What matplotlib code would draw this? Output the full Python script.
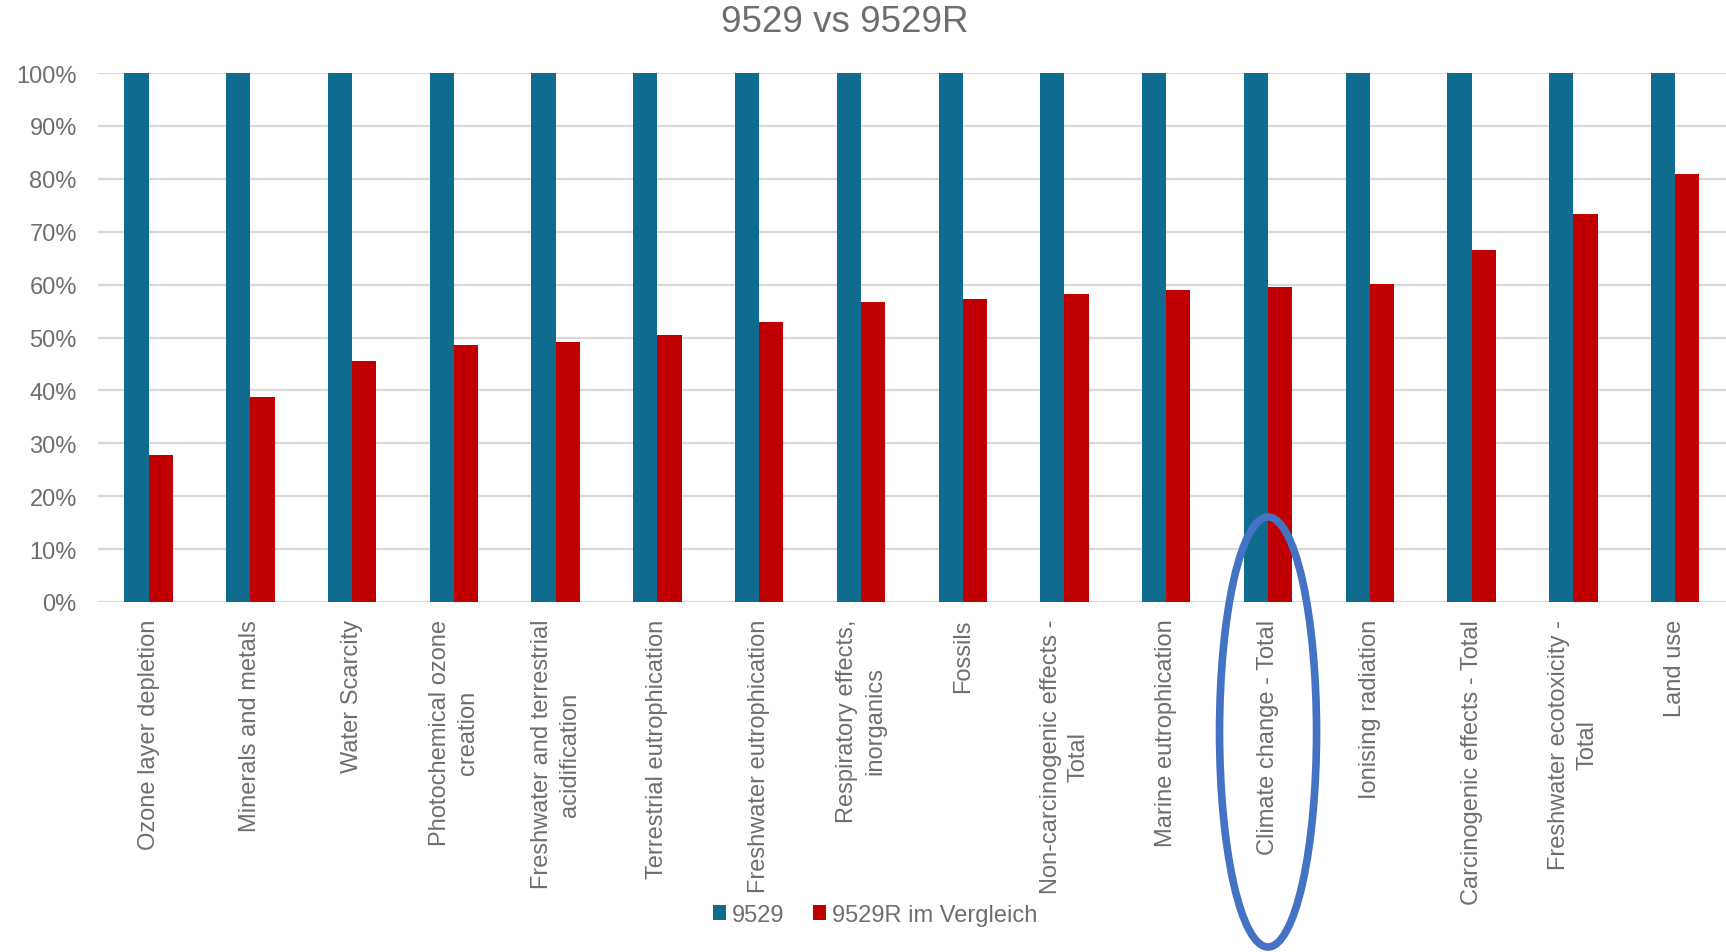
import matplotlib
matplotlib.use("Agg")
import matplotlib.pyplot as plt
import numpy as np
from matplotlib.patches import Ellipse
from matplotlib.ticker import PercentFormatter

plt.rcParams['font.family'] = ['Liberation Sans', 'DejaVu Sans']

# Data
categories = [
    "Ozone layer depletion",
    "Minerals and metals",
    "Water Scarcity",
    "Photochemical ozone\ncreation",
    "Freshwater and terrestrial\nacidification",
    "Terrestrial eutrophication",
    "Freshwater eutrophication",
    "Respiratory effects,\ninorganics",
    "Fossils",
    "Non-carcinogenic effects -\nTotal",
    "Marine eutrophication",
    "Climate change - Total",
    "Ionising radiation",
    "Carcinogenic effects - Total",
    "Freshwater ecotoxicity -\nTotal",
    "Land use",
]
base_9529 = [1.0] * 16
comp_9529r = [0.277, 0.388, 0.456, 0.485, 0.492, 0.504, 0.529, 0.568,
              0.572, 0.582, 0.589, 0.596, 0.602, 0.666, 0.734, 0.809]
series_names = ["9529", "9529R im Vergleich"]
highlight = "Climate change - Total"

blue = "#106C8E"
red = "#C00000"
text_col = "#6E6E6E"
grid_col = "#D9D9D9"

fig = plt.figure(figsize=(17.26, 9.53), dpi=100)
ax = fig.add_axes([0.0566, 0.3673, 0.9434, 0.5550])

x = np.arange(len(categories))
w = 0.238
ax.bar(x - w / 2, base_9529, w, color=blue, label=series_names[0], zorder=2)
ax.bar(x + w / 2, comp_9529r, w, color=red, label=series_names[1], zorder=2)

ax.set_xlim(-0.5, len(categories) - 0.5)
ax.set_ylim(0, 1.0)
ax.set_yticks(np.arange(0, 1.01, 0.1))
ax.yaxis.set_major_formatter(PercentFormatter(1.0, decimals=0))
ax.set_xticks(x)
ax.set_xticklabels(categories, rotation=90, ha="center", va="top",
                   multialignment="center", linespacing=1.35)

ax.grid(axis="y", color=grid_col, linewidth=1.6)
ax.set_axisbelow(True)
for s in ax.spines.values():
    s.set_visible(False)
ax.tick_params(axis="x", length=0, pad=12, labelsize=17, labelcolor=text_col)
ax.tick_params(axis="y", length=0, pad=15, labelsize=17, labelcolor=text_col)

fig.text(0.4896, 0.976, "9529 vs 9529R", ha="center", va="center",
         fontsize=26.5, color=text_col)

leg = fig.legend(loc="center", bbox_to_anchor=(0.507, 0.039), ncol=2,
                 frameon=False, fontsize=17, handlelength=0.55, handleheight=0.55,
                 handletextpad=0.25, columnspacing=1.2, borderaxespad=0)
for t in leg.get_texts():
    t.set_color(text_col)

# blue ellipse marking the highlighted category
fig.canvas.draw()
idx = categories.index(highlight)
px, _ = ax.transData.transform((idx, 0))
cx = fig.transFigure.inverted().transform((px, 0))[0]
ell = Ellipse((cx, 1 - 733 / 953), 97 / 1726, 430 / 953, transform=fig.transFigure,
              fill=False, edgecolor="#4472C4", linewidth=5.5, zorder=10)
fig.add_artist(ell)

fig.savefig("out.png", dpi=100)
